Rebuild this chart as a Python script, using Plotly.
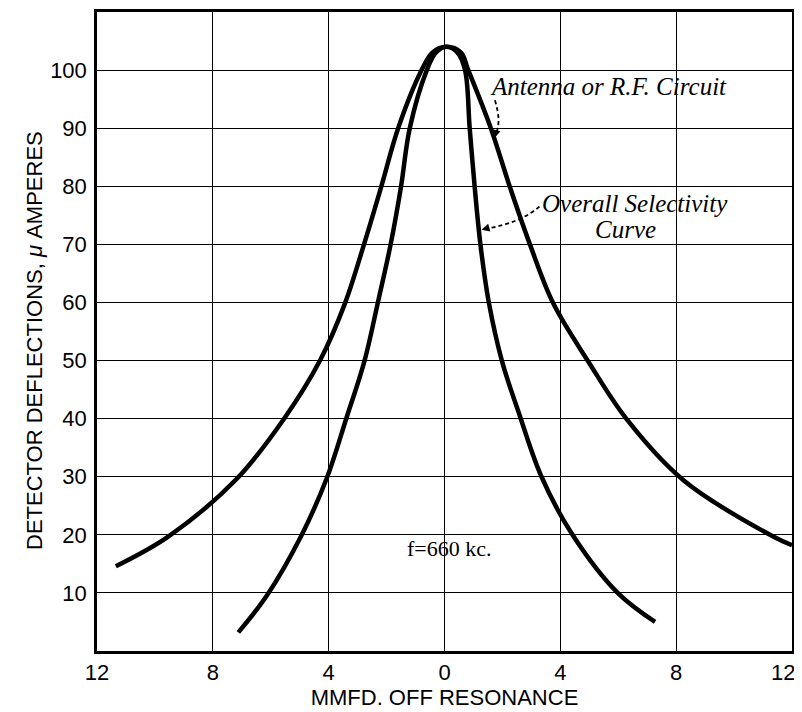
import plotly.graph_objects as go

# antenna / r.f. circuit curve
antenna_x = [-11.35, -9.54, -7.18, -5.51, -4.3, -3.44, -2.78, -2.18, -1.6, -0.79, -0.42,
             0.07, 0.57, 0.82, 1.6, 2.25, 2.95, 3.76, 4.97, 6.29, 8.25, 11.35, 12.0]
antenna_y = [14.6, 19.7, 29.6, 40.2, 50, 59.8, 70, 80, 90, 100, 103,
             104, 103, 100, 90, 80, 70, 59.8, 49.8, 39.9, 29.4, 19.7, 18.2]

# overall selectivity curve
overall_x = [-7.12, -6.14, -4.95, -4.07, -3.38, -2.76, -2.3, -1.86, -1.5, -1.2, -0.61, -0.3,
             0.07, 0.45, 0.71, 0.87, 1.04, 1.24, 1.53, 1.98, 2.6, 3.35, 4.42, 5.98, 7.27]
overall_y = [3.2, 9.5, 19.8, 29.7, 40.2, 50, 60, 70, 80, 90, 100, 103,
             104, 103, 100, 90, 80, 70, 60, 50, 40.5, 30, 20, 10, 5.0]

x_ticks = [-12, -8, -4, 0, 4, 8, 12]
x_labels = ["12", "8", "4", "0", "4", "8", ""]
y_ticks = [10, 20, 30, 40, 50, 60, 70, 80, 90, 100]

fig = go.Figure()
for xs, ys in [(antenna_x, antenna_y), (overall_x, overall_y)]:
    fig.add_trace(go.Scatter(x=xs, y=ys, mode="lines",
                             line=dict(color="black", width=4.5, shape="spline", smoothing=1.0),
                             showlegend=False, hoverinfo="skip"))

serif = "Liberation Serif"
sans = "Liberation Sans"

# dashed leader lines
fig.add_shape(type="path", xref="x", yref="y",
              path="M 1.74 94.8 Q 1.98 91 1.76 88.9",
              line=dict(color="black", width=1.8, dash="4px,3px"))
fig.add_shape(type="path", xref="x", yref="y",
              path="M 3.28 76.5 Q 2.6 73.6 1.4 72.7",
              line=dict(color="black", width=1.8, dash="4px,3px"))
# arrow heads only
fig.add_annotation(x=1.73, y=88.3, ax=1.5, ay=-6, text="",
                   showarrow=True, arrowhead=2, arrowsize=1, arrowwidth=1.6, arrowcolor="black")
fig.add_annotation(x=1.28, y=72.5, ax=7, ay=-2, text="",
                   showarrow=True, arrowhead=2, arrowsize=1, arrowwidth=1.6, arrowcolor="black")

ann_font = dict(family=serif, size=25, color="black")
fig.add_annotation(x=1.5, y=97.2, xanchor="left", text="<i>Antenna or R.F. Circuit</i>",
                   showarrow=False, font=ann_font)
fig.add_annotation(x=3.3, y=77.1, xanchor="left", text="<i>Overall Selectivity</i>",
                   showarrow=False, font=ann_font)
fig.add_annotation(x=5.13, y=72.6, xanchor="left", text="<i>Curve</i>",
                   showarrow=False, font=ann_font)
fig.add_annotation(x=-1.36, y=17.7, xanchor="left", text="f=660 kc.", showarrow=False,
                   font=dict(family=serif, size=22, color="black"))

# y axis title
fig.add_annotation(xref="paper", yref="paper", x=0, y=0.5, xshift=-77, yshift=-9,
                   text="DETECTOR DEFLECTIONS, <i>μ</i> AMPERES", textangle=-90,
                   showarrow=False, font=dict(family=sans, size=22, color="black"))
# last x tick label sits at the right edge, pulled in so it is not clipped
fig.add_annotation(x=12, xref="x", yref="paper", y=0, yanchor="middle", xanchor="right",
                   xshift=5, yshift=-21, text="12", showarrow=False,
                   font=dict(family=sans, size=22, color="black"))

axis_common = dict(showgrid=True, gridcolor="black", gridwidth=1.4, zeroline=False,
                   showline=True, linecolor="black", linewidth=2.5, mirror=True,
                   ticks="", automargin=False,
                   tickfont=dict(family=sans, size=22, color="black"))

fig.update_xaxes(range=[-12, 12], tickvals=x_ticks, ticktext=x_labels,
                 title=dict(text="MMFD. OFF RESONANCE", standoff=4,
                            font=dict(family=sans, size=22, color="black")),
                 ticklabelstandoff=0, **axis_common)
fig.update_yaxes(range=[0, 110], tickvals=y_ticks, ticklabelstandoff=3, **axis_common)

# page body adds an 8px offset, so the figure is a bit smaller than the window
fig.update_layout(width=794, height=704, plot_bgcolor="white", paper_bgcolor="white",
                  margin=dict(l=89, r=10, t=4, b=61))

fig.write_html("out.html")
